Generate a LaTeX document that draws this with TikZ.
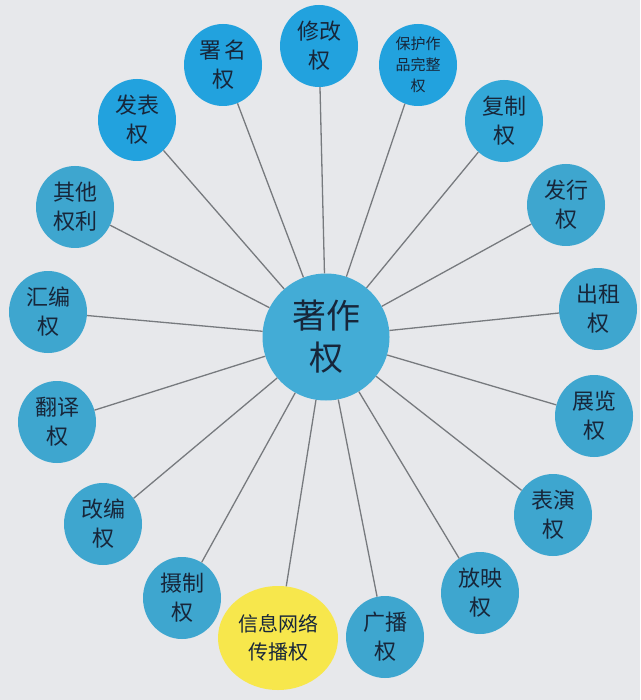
\documentclass[tikz,border=0pt]{standalone}
\usepackage{fontspec}
\setmainfont{Noto Sans CJK SC}
\usetikzlibrary{shapes.geometric}
\definecolor{bg}{HTML}{E7E8EB}
\definecolor{bright}{HTML}{22A2DE}
\definecolor{mid}{HTML}{33A8D8}
\definecolor{side}{HTML}{3EA6CF}
\definecolor{core}{HTML}{43ACD6}
\definecolor{gold}{HTML}{F7E74C}
\definecolor{ink}{HTML}{17263A}
\definecolor{spoke}{HTML}{777A7E}
\tikzset{
  x=1pt,y=-1pt,
  bub/.style={ellipse,fill=side,minimum width=78pt,minimum height=82pt,inner sep=0pt,
    align=center,text=ink,font=\fontsize{22}{29}\selectfont},
  spk/.style={draw=spoke,line width=1.3pt}
}
\begin{document}
\begin{tikzpicture}
\fill[bg] (0,0) rectangle (640,700);
\useasboundingbox (0,0) rectangle (640,700);
\node[circle,fill=core,minimum size=127pt,inner sep=0pt,align=center,text=ink,
  font=\fontsize{34}{42}\selectfont] (c) at (326,337) {著作\\权};
\node[bub,fill=bright] (n1) at (319,46) {修改\\权};
\node[bub,fill=bright] (n2) at (223,65) {署\,名\\权};
\node[bub,fill=bright,font=\fontsize{15}{21}\selectfont] (n3) at (418,65) {保护作\\品完整\\权};
\node[bub,fill=bright] (n4) at (137,120) {发表\\权};
\node[bub,fill=mid] (n5) at (504,121) {复制\\权};
\node[bub] (n6) at (75,207) {其他\\权利};
\node[bub] (n7) at (566,205) {发行\\权};
\node[bub] (n8) at (48,312) {汇编\\权};
\node[bub] (n9) at (598,309) {出租\\权};
\node[bub] (n10) at (57,422) {翻译\\权};
\node[bub] (n11) at (594,416) {展览\\权};
\node[bub] (n12) at (103,524) {改编\\权};
\node[bub] (n13) at (553,515) {表演\\权};
\node[bub] (n14) at (182,598) {摄制\\权};
\node[bub] (n15) at (480,593) {放映\\权};
\node[bub,fill=gold,minimum width=120pt,minimum height=104pt,font=\fontsize{20}{28}\selectfont] (n16) at (278,638) {信息网络\\传播权};
\node[bub] (n17) at (385,637) {广播\\权};
\foreach \n in {n1,n2,n3,n4,n5,n6,n7,n8,n9,n10,n11,n12,n13,n14,n15,n16,n17}{
  \draw[spk] (c) -- (\n);
}
\end{tikzpicture}
\end{document}
